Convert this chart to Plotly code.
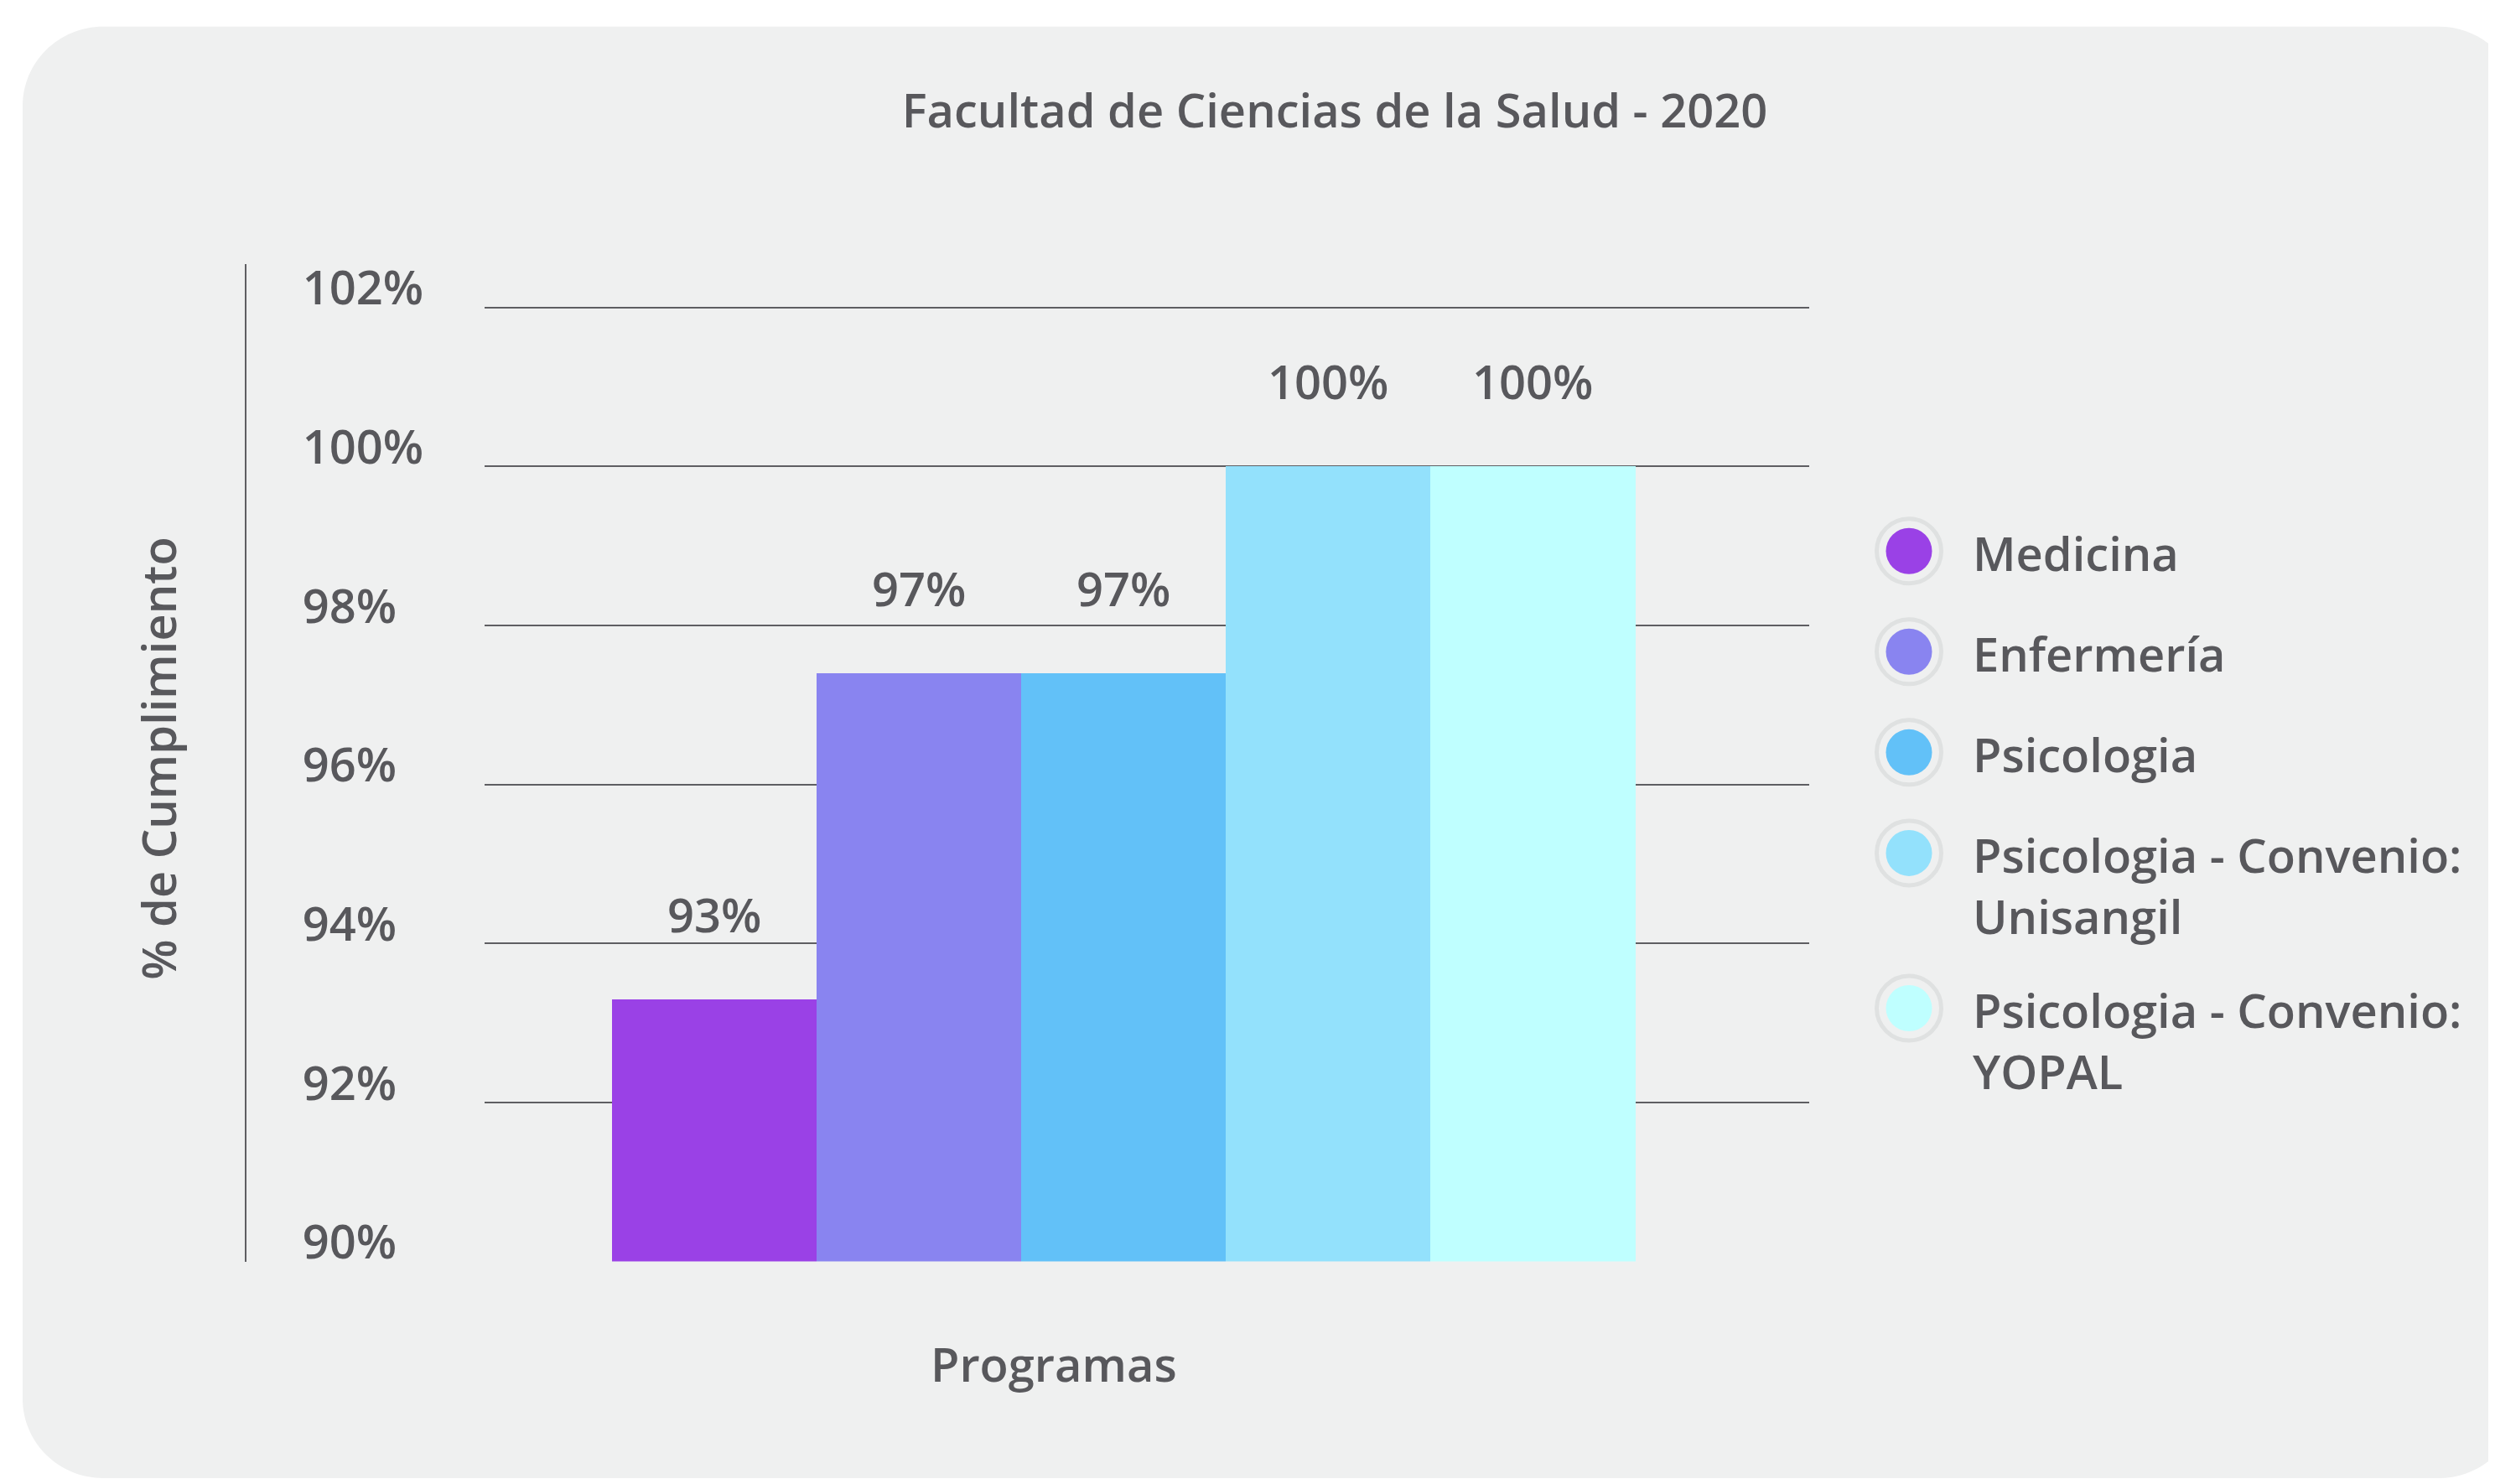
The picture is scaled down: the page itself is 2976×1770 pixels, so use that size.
import plotly.graph_objects as go

W, H = 2976, 1770

# ---------------- data ----------------
programs = ["Medicina", "Enfermería", "Psicologia",
            "Psicologia - Convenio: Unisangil", "Psicologia - Convenio: YOPAL"]
values = [93.3, 97.4, 97.4, 100.0, 100.0]
colors = ["#9a41e6", "#8984f0", "#62c1f8", "#93e1fc", "#bfffff"]
y_ticks = [90, 92, 94, 96, 98, 100, 102]
y_tick_text = [f"{t}%" for t in y_ticks]
title_text = "Facultad de Ciencias de la Salud - 2020"
y_title = "% de Cumplimiento"
x_title = "Programas"

# ---------------- style ----------------
TEXT = "#58585c"
LINE = "#5e5e62"
CARD = "#eff0f0"
RING = "#dfe1e1"
FONT = "Open Sans"
FS = 56
OFF = 8  # page body margin of the rendered html


def px(x):
    return (x - OFF) / W


def py(y):
    return 1 - (y - OFF) / H


def card_path(x0, y0, x1, y1, r):
    k = 0.5523 * r
    P = lambda x, y: f"{px(x):.5f},{py(y):.5f}"
    return (
        f"M{P(x0 + r, y0)} L{P(x1 - r, y0)} "
        f"C{P(x1 - r + k, y0)} {P(x1, y0 + r - k)} {P(x1, y0 + r)} "
        f"L{P(x1, y1 - r)} "
        f"C{P(x1, y1 - r + k)} {P(x1 - r + k, y1)} {P(x1 - r, y1)} "
        f"L{P(x0 + r, y1)} "
        f"C{P(x0 + r - k, y1)} {P(x0, y1 - r + k)} {P(x0, y1 - r)} "
        f"L{P(x0, y0 + r)} "
        f"C{P(x0, y0 + r - k)} {P(x0 + r - k, y0)} {P(x0 + r, y0)} Z"
    )


fig = go.Figure()

fig.add_trace(go.Bar(
    x=programs, y=values,
    marker=dict(color=colors, line=dict(width=0)),
    showlegend=False, hoverinfo="x+y",
))

# ---- custom legend (big circular symbols) on its own axes ----
legend_labels = [p.replace(": ", ":<br>") for p in programs]
leg_y = []
extra = 0
for lab in legend_labels:
    leg_y.append(len(leg_y) + 0.542 * extra)
    extra += lab.count("<br>")

LEG_STEP = 121.7          # px per legend row
LEG_X = 2277 - OFF        # px centre of legend symbols
LEG_Y0 = 655 - OFF        # px centre of first legend symbol
lx_dom = [0.74, 1.0]
ly_dom = [0.2, 0.75]
lx_range = [(lx_dom[0] * W - LEG_X) / LEG_STEP, (lx_dom[1] * W - LEG_X) / LEG_STEP]
ly_range = [((1 - ly_dom[0]) * H - LEG_Y0) / LEG_STEP, ((1 - ly_dom[1]) * H - LEG_Y0) / LEG_STEP]

fig.add_trace(go.Scatter(
    x=[0] * len(programs), y=leg_y, xaxis="x2", yaxis="y2",
    mode="markers", showlegend=False, hoverinfo="skip",
    marker=dict(size=77, color=CARD, line=dict(color=RING, width=5)),
))
fig.add_trace(go.Scatter(
    x=[0] * len(programs), y=leg_y, xaxis="x2", yaxis="y2",
    mode="markers", showlegend=False, hoverinfo="skip",
    marker=dict(size=55, color=colors, line=dict(width=0)),
))

annotations = []
for lab, yy in zip(legend_labels, leg_y):
    annotations.append(dict(
        xref="x2", yref="y2", x=0, y=yy, text=lab, showarrow=False,
        xanchor="left", yanchor="top", align="left", xshift=74, yshift=38,
        font=dict(family=FONT, size=FS, color=TEXT, weight=600),
    ))

# value labels above bars
for p, v in zip(programs, values):
    annotations.append(dict(
        xref="x", yref="y", x=p, y=v, text=f"{v:.0f}%", showarrow=False,
        xanchor="center", yanchor="middle", yshift=102,
        font=dict(family=FONT, size=FS, color=TEXT, weight=600),
    ))

# axis titles
annotations.append(dict(
    xref="paper", yref="paper", x=px(1257), y=py(1637), text=x_title,
    showarrow=False, xanchor="center", yanchor="middle",
    font=dict(family=FONT, size=FS, color=TEXT, weight=600),
))
annotations.append(dict(
    xref="paper", yref="paper", x=px(188), y=py(906), text=y_title,
    showarrow=False, xanchor="center", yanchor="middle", textangle=-90,
    font=dict(family=FONT, size=FS, color=TEXT, weight=600),
))

fig.update_layout(
    width=W, height=H, autosize=False,
    margin=dict(l=0, r=0, t=0, b=0),
    paper_bgcolor="white",
    plot_bgcolor="rgba(0,0,0,0)",
    bargap=0,
    title=dict(
        text=title_text, x=px(1592), xanchor="center", y=py(132), yanchor="middle",
        font=dict(family=FONT, size=56, color=TEXT, weight=600),
    ),
    xaxis=dict(
        domain=[px(578), px(2158)], range=[-1.1227, 5.350], anchor="y",
        showticklabels=False, showgrid=False, zeroline=False, showline=False,
        ticks="", fixedrange=True,
    ),
    yaxis=dict(
        domain=[py(1514), py(308)], range=[90, 102.547],
        anchor="free", position=px(293),
        showline=True, linecolor=LINE, linewidth=2,
        showgrid=True, gridcolor=LINE, gridwidth=2, zeroline=False,
        tickmode="array", tickvals=y_ticks, ticktext=y_tick_text, ticks="",
        ticklabelposition="inside", ticklabeloverflow="allow",
        ticklabelstandoff=75, ticklabelshift=-23,
        tickfont=dict(family=FONT, size=FS, color=TEXT, weight=600),
        fixedrange=True,
    ),
    xaxis2=dict(domain=lx_dom, range=lx_range, anchor="y2", visible=False, fixedrange=True),
    yaxis2=dict(domain=ly_dom, range=ly_range, anchor="x2", visible=False, fixedrange=True),
    annotations=annotations,
    shapes=[dict(
        type="path", xref="paper", yref="paper", layer="below",
        path=card_path(27, 21, 3005, 1776, 96),
        fillcolor=CARD, line=dict(width=0),
    )],
)

fig.write_html("out.html", config={"responsive": False})
